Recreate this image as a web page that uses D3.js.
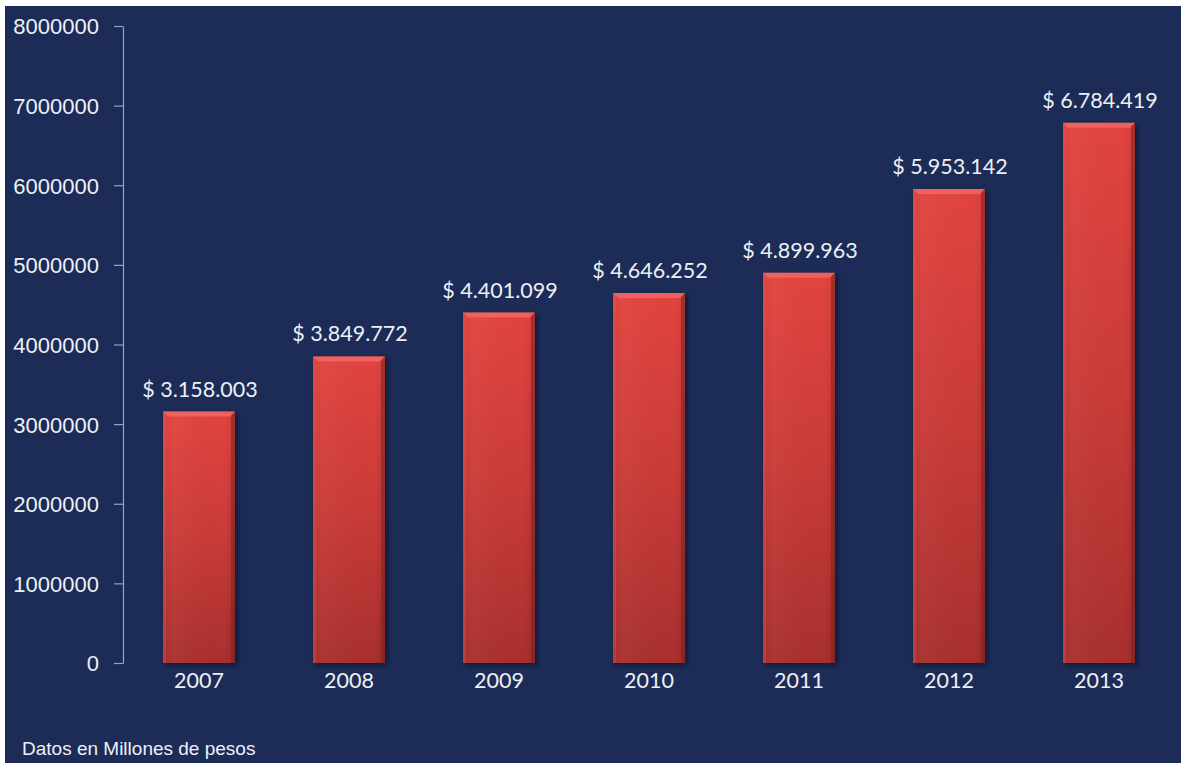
<!DOCTYPE html>
<html>
<head>
<meta charset="utf-8">
<script src="https://cdn.jsdelivr.net/npm/d3@7"></script>
<style>
  html, body { margin: 0; padding: 0; background: #ffffff; }
  svg { display: block; }
</style>
</head>
<body>
<svg id="chart" width="1181" height="763"></svg>
<script>
const years = ["2007", "2008", "2009", "2010", "2011", "2012", "2013"];
const values = [3158003, 3849772, 4401099, 4646252, 4899963, 5953142, 6784419];
const yTicks = [0, 1000000, 2000000, 3000000, 4000000, 5000000, 6000000, 7000000, 8000000];
const footnote = "Datos en Millones de pesos";

const W = 1181, H = 763;
const svg = d3.select("#chart");

// background panel (thin white margin at top and left)
svg.append("rect").attr("x", 5).attr("y", 6).attr("width", W - 5).attr("height", H - 6).attr("fill", "#1c2c56");

const defs = svg.append("defs");
const grad = defs.append("linearGradient").attr("id", "barGrad").attr("x1", 0).attr("y1", 0).attr("x2", 0).attr("y2", 1);
grad.append("stop").attr("offset", "0%").attr("stop-color", "#e2443f");
grad.append("stop").attr("offset", "50%").attr("stop-color", "#c93b38");
grad.append("stop").attr("offset", "100%").attr("stop-color", "#a8302f");
const hgrad = defs.append("linearGradient").attr("id", "barH").attr("x1", 0).attr("y1", 0).attr("x2", 1).attr("y2", 0);
hgrad.append("stop").attr("offset", "0%").attr("stop-color", "#000").attr("stop-opacity", 0.04);
hgrad.append("stop").attr("offset", "15%").attr("stop-color", "#fff").attr("stop-opacity", 0.03);
hgrad.append("stop").attr("offset", "85%").attr("stop-color", "#000").attr("stop-opacity", 0.0);
hgrad.append("stop").attr("offset", "100%").attr("stop-color", "#000").attr("stop-opacity", 0.1);
const blur = defs.append("filter").attr("id", "shadow").attr("x", "-20%").attr("y", "-20%").attr("width", "140%").attr("height", "140%");
blur.append("feGaussianBlur").attr("stdDeviation", 2);

const y = d3.scaleLinear().domain([0, 8000000]).range([663, 26]);
const x = d3.scaleBand().domain(years).range([124, 1174]).paddingInner(0.52).paddingOuter(0.26);

// y axis
const axis = svg.append("g").attr("transform", "translate(123,0)")
  .call(d3.axisLeft(y).tickValues(yTicks).tickSize(9).tickSizeOuter(0).tickPadding(15).tickFormat(d3.format("d")));
axis.select(".domain").attr("stroke", "#9aa3bd").attr("stroke-width", 1.2);
axis.selectAll(".tick line").attr("stroke", "#9aa3bd").attr("stroke-width", 1.2);
axis.selectAll(".tick text").attr("fill", "#eef0f6").attr("font-family", "'Liberation Sans', Arial, sans-serif")
  .attr("font-size", 22).attr("dy", "0.36em");

const data = years.map((yr, i) => ({ year: yr, value: values[i] }));
const bars = svg.append("g").selectAll("g").data(data).join("g");

// drop shadow
bars.append("rect")
  .attr("x", d => x(d.year) + 2).attr("y", d => y(d.value) + 2)
  .attr("width", x.bandwidth()).attr("height", d => y(0) - y(d.value))
  .attr("fill", "#0a1024").attr("opacity", 0.7).attr("filter", "url(#shadow)");
// main bar
bars.append("rect")
  .attr("x", d => x(d.year)).attr("y", d => y(d.value))
  .attr("width", x.bandwidth()).attr("height", d => y(0) - y(d.value))
  .attr("fill", "url(#barGrad)");
bars.append("rect")
  .attr("x", d => x(d.year)).attr("y", d => y(d.value))
  .attr("width", x.bandwidth()).attr("height", d => y(0) - y(d.value))
  .attr("fill", "url(#barH)");
// top bevel highlight
bars.append("path")
  .attr("d", d => {
    const x0 = x(d.year), x1 = x0 + x.bandwidth(), t = y(d.value), b = 5;
    return `M${x0},${t}L${x1},${t}L${x1 - b},${t + b}L${x0 + b},${t + b}Z`;
  })
  .attr("fill", "#f06a66").attr("opacity", 0.8);
// right edge dark bevel
bars.append("path")
  .attr("d", d => {
    const x0 = x(d.year), x1 = x0 + x.bandwidth(), t = y(d.value), bt = y(0), b = 4;
    return `M${x1},${t}L${x1},${bt}L${x1 - b},${bt}L${x1 - b},${t + b}Z`;
  })
  .attr("fill", "#7a1f22").attr("opacity", 0.5);
// left edge subtle
bars.append("path")
  .attr("d", d => {
    const x0 = x(d.year), t = y(d.value), bt = y(0), b = 3;
    return `M${x0},${t}L${x0 + b},${t + b}L${x0 + b},${bt}L${x0},${bt}Z`;
  })
  .attr("fill", "#e85a55").attr("opacity", 0.35);

// value labels
const fmt = v => "$ " + d3.format(",")(v).replace(/,/g, ".");
bars.append("text")
  .attr("x", d => x(d.year) + x.bandwidth() / 2 + 1)
  .attr("y", d => y(d.value) - 15)
  .attr("text-anchor", "middle")
  .attr("fill", "#eef0f6")
  .attr("font-family", "Lato, 'Open Sans', sans-serif")
  .attr("font-size", 21.5)
  .text(d => fmt(d.value));

// year labels
bars.append("text")
  .attr("x", d => x(d.year) + x.bandwidth() / 2)
  .attr("y", 688)
  .attr("text-anchor", "middle")
  .attr("fill", "#eef0f6")
  .attr("font-family", "Lato, 'Open Sans', sans-serif")
  .attr("font-size", 21.5)
  .text(d => d.year);

// footnote
svg.append("text")
  .attr("x", 22).attr("y", 755)
  .attr("fill", "#eef0f6")
  .attr("font-family", "'Liberation Sans', Arial, sans-serif")
  .attr("font-size", 19)
  .text(footnote);
</script>
</body>
</html>
